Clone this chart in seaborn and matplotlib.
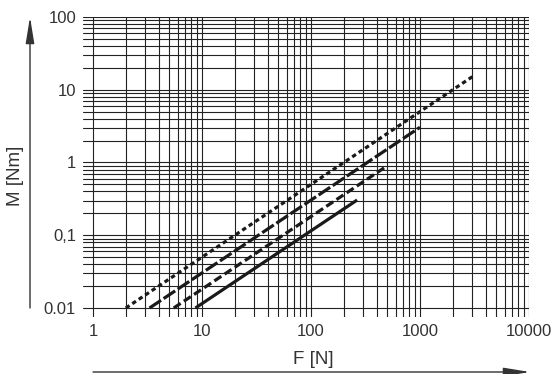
import matplotlib
matplotlib.use("Agg")
import matplotlib.pyplot as plt
import seaborn as sns
import numpy as np
import pandas as pd

# Data: each curve M = k*F, given by its two end points
series = ["short dash", "long dash", "dash", "solid"]
F_start = [2.0, 3.3, 5.5, 8.7]
F_end = [3200.0, 1000.0, 500.0, 265.0]
M_start = [0.01, 0.01, 0.01, 0.01]
M_end = [16.0, 3.05, 0.9, 0.305]

x_ticks = [1, 10, 100, 1000, 10000]
x_tick_labels = ["1", "10", "100", "1000", "10000"]
y_ticks = [0.01, 0.1, 1, 10, 100]
y_tick_labels = ["0.01", "0,1", "1", "10", "100"]
x_label = "F [N]"
y_label = "M [Nm]"

sns.set_style("white")
plt.rcParams["font.family"] = ["Liberation Sans", "DejaVu Sans"]
plt.rcParams["lines.scale_dashes"] = False

fig = plt.figure(figsize=(5.55, 3.74), dpi=100)
ax = fig.add_axes([83 / 555, 1 - 317 / 374, (529 - 83) / 555, (317 - 17) / 374])

rows = []
for s, f0, f1, m0, m1 in zip(series, F_start, F_end, M_start, M_end):
    rows.append({"series": s, "F": f0, "M": m0})
    rows.append({"series": s, "F": f1, "M": m1})
df = pd.DataFrame(rows)

styles = {
    "short dash": (0, (3.2, 2.4)),
    "long dash": (0, (10.0, 2.2)),
    "dash": (0, (6.0, 2.8)),
    "solid": "-",
}
for s in series:
    sub = df[df["series"] == s]
    sns.lineplot(data=sub, x="F", y="M", ax=ax, color="#1a1a1a", lw=2.3,
                 linestyle=styles[s], solid_capstyle="butt", dash_capstyle="butt",
                 legend=False, zorder=3, estimator=None, sort=False)

ax.set_xscale("log")
ax.set_yscale("log")
ax.set_xlim(10 ** (-(93 - 83) / 109), 10000)
ax.set_ylim(0.01 * 10 ** (-(317 - 308) / 72.75), 100)

# grid lines (major + minor) at all decade subdivisions
for dec in range(0, 4):
    for m in range(1, 10):
        ax.axvline(m * 10 ** dec, color="#222222", lw=0.8, zorder=1)
ax.axvline(10000, color="#222222", lw=0.8, zorder=1)
for dec in range(-2, 2):
    for m in range(1, 10):
        ax.axhline(m * 10.0 ** dec, color="#222222", lw=0.8, zorder=1)
ax.axhline(100, color="#222222", lw=0.8, zorder=1)

ax.set_xticks(x_ticks)
ax.set_xticklabels(x_tick_labels)
ax.set_yticks(y_ticks)
ax.set_yticklabels(y_tick_labels)
ax.minorticks_off()
ax.tick_params(axis="both", length=0, labelsize=12, colors="#333333")
ax.tick_params(axis="x", pad=5)
ax.tick_params(axis="y", pad=5)
ax.set_xlabel("")
ax.set_ylabel("")
for sp in ax.spines.values():
    sp.set_visible(False)
ax.grid(False)

# axis labels
fig.text(313 / 555, 1 - 360 / 374, x_label, ha="center", va="center",
         fontsize=13.5, color="#333333")
fig.text(15 / 555, 1 - 176 / 374, y_label, ha="center", va="center",
         rotation=90, fontsize=13.5, color="#333333")

# axis arrows
arrow_style = "-|>,head_length=16,head_width=2.6"
fig.add_artist(matplotlib.patches.FancyArrowPatch(
    (30 / 555, 1 - 308 / 374), (30 / 555, 1 - 17 / 374),
    transform=fig.transFigure, arrowstyle=arrow_style,
    color="#333333", lw=1.0, mutation_scale=1, shrinkA=0, shrinkB=0))
fig.add_artist(matplotlib.patches.FancyArrowPatch(
    (93 / 555, 1 - 372 / 374), (530 / 555, 1 - 372 / 374),
    transform=fig.transFigure, arrowstyle=arrow_style,
    color="#333333", lw=1.0, mutation_scale=1, shrinkA=0, shrinkB=0))

fig.savefig("out.png", dpi=100)
